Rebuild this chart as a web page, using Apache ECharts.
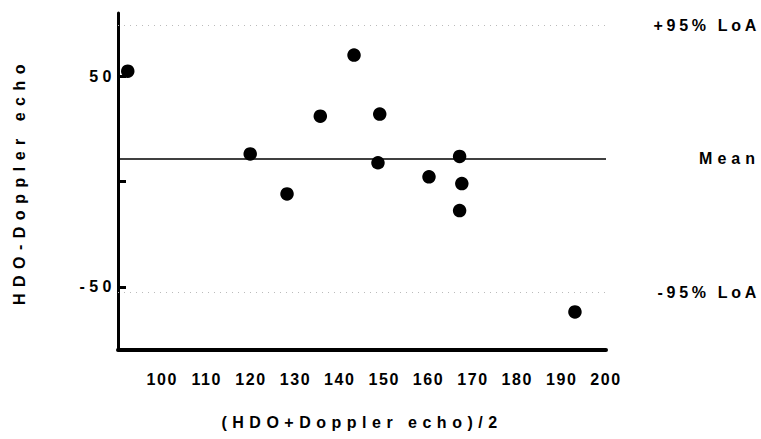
<!DOCTYPE html>
<html>
<head>
<meta charset="utf-8">
<title>HDO vs Doppler echo</title>
<script src="https://cdn.jsdelivr.net/npm/echarts@6.0.0/dist/echarts.min.js"></script>
<style>
  html, body { margin: 0; padding: 0; background: #fff; }
  #main { width: 761px; height: 439px; }
</style>
</head>
<body>
<div id="main"></div>
<script>
// 数据 (HDO+Doppler echo)/2 与 HDO-Doppler echo
var avgVals = [92.2, 119.8, 128.1, 135.6, 143.2, 149.0, 148.6, 160.1, 167.0, 167.5, 167.0, 193.0];
var diffVals = [52.4, 13.1, -5.9, 31.0, 60.0, 32.0, 8.9, 2.2, 11.9, -1.0, -13.8, -61.9];
var meanDiff = 10.7;
var upperLoA = 74.0;
var lowerLoA = -52.6;
var lineNames = ['+95% LoA', 'Mean', '-95% LoA'];
var xTicks = [100, 110, 120, 130, 140, 150, 160, 170, 180, 190, 200];
var yTicks = [-50, 0, 50];
var yTickLabels = [-50, 50];

var font = "'Liberation Sans', Arial, sans-serif";
var txt = { fontFamily: font, fontWeight: 'bold', fontSize: 16, color: '#000' };

// 字间距 (svg)
var spacing = {
  '(HDO+Doppler echo)/2': 5.5,
  'HDO-Doppler echo': 6.5,
  '+95% LoA': 3.7,
  '-95% LoA': 3.7,
  'Mean': 5
};

var points = avgVals.map(function(v, i) {
  return [v, diffVals[i]];
});

var dotted = { type: [1, 5], color: '#bbb', width: 1 };

var option = {
  animation: false,
  grid: { left: 118, right: 155, top: 13, bottom: 89 },
  xAxis: {
    type: 'value',
    min: 90,
    max: 200,
    interval: 10,
    name: '(HDO+Doppler echo)/2',
    nameLocation: 'middle',
    nameGap: 64,
    nameTextStyle: txt,
    axisLine: { show: true, onZero: false, lineStyle: { color: '#000', width: 4 } },
    axisTick: { show: false },
    axisLabel: Object.assign({ customValues: xTicks, margin: 21 }, txt),
    splitLine: { show: false }
  },
  yAxis: {
    type: 'value',
    min: -80,
    max: 80,
    name: 'HDO-Doppler echo',
    nameLocation: 'middle',
    nameGap: 91,
    nameTextStyle: txt,
    axisLine: { show: true, onZero: false, lineStyle: { color: '#000', width: 3 } },
    axisTick: {
      show: true,
      inside: true,
      length: 8,
      customValues: yTicks,
      lineStyle: { color: '#000', width: 3 }
    },
    axisLabel: Object.assign({ customValues: yTickLabels, margin: 2 }, txt),
    splitLine: { show: false }
  },
  series: [{
    type: 'scatter',
    data: points,
    symbolSize: 13.5,
    itemStyle: { color: '#000', opacity: 1 },
    silent: true,
    markLine: {
      silent: true,
      symbol: 'none',
      animation: false,
      label: Object.assign({
        show: true,
        position: 'end',
        formatter: '{b}',
        align: 'right',
        verticalAlign: 'middle',
        distance: 154,
        padding: [6, 0, 0, 0]
      }, txt),
      data: [
        { name: lineNames[0], yAxis: upperLoA, lineStyle: dotted },
        { name: lineNames[1], yAxis: meanDiff, lineStyle: { type: 'solid', color: '#000', width: 1.5 } },
        { name: lineNames[2], yAxis: lowerLoA, lineStyle: dotted }
      ]
    }
  }]
};

var chart = echarts.init(document.getElementById('main'), null, { renderer: 'svg' });
chart.setOption(option);

function applySpacing() {
  var texts = document.querySelectorAll('#main svg text');
  texts.forEach(function(t) {
    var s = t.textContent;
    var ls = spacing[s];
    if (ls == null) ls = xTicks.indexOf(+s) >= 0 ? 1.6 : 4.5;
    t.setAttribute('letter-spacing', ls);
  });
}
applySpacing();
chart.on('finished', applySpacing);
setTimeout(applySpacing, 50);
</script>
</body>
</html>
